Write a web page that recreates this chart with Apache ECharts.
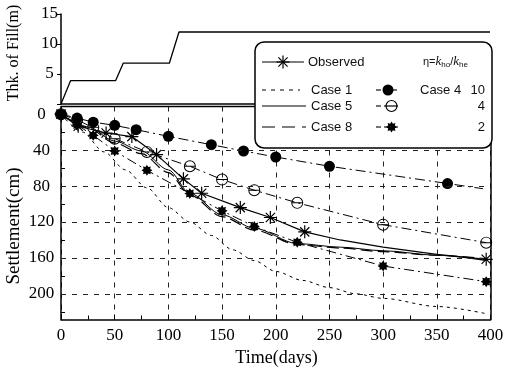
<!DOCTYPE html>
<html>
<head>
<meta charset="utf-8">
<title>Settlement vs time</title>
<script src="https://cdn.jsdelivr.net/npm/echarts@6.0.0/dist/echarts.min.js"></script>
<style>
  html, body { margin: 0; padding: 0; background: #fff; }
  #chart { width: 507px; height: 370px; }
</style>
</head>
<body>
<div id="chart"></div>
<script>
// thickness of fill (upper panel)
const fillDays = [0, 9, 51, 58, 101, 110, 400];
const fillThk  = [0, 3.9, 3.9, 6.8, 6.8, 12, 12];

// observed settlement
const obsDays     = [0, 16, 42, 66, 89, 114, 131, 167, 195, 227, 260, 300, 350, 396];
const obsSettle   = [0, 13.5, 21, 25, 45, 72, 88, 104, 115, 131, 140, 148, 156, 161.5];
const obsUnmarked = [260, 300, 350];

// computed cases (lines only)
const case1Days   = [0, 20, 40, 60, 80, 100, 120, 140, 160, 180, 200, 225, 250, 275, 300, 350, 396];
const case1Settle = [0, 20, 42, 62, 82, 104, 120, 135, 151, 163, 175, 185, 193, 200, 205, 214, 222];
const case5Days   = [0, 25, 50, 75, 100, 120, 150, 180, 220, 260, 300, 350, 396];
const case5Settle = [0, 14, 30, 41, 62, 88, 112, 127, 144, 148, 152, 157, 163];
const case8Days   = [0, 25, 50, 75, 100, 120, 150, 180, 220, 260, 300, 350, 396];
const case8Settle = [0, 15, 32, 44, 65, 90, 114, 129, 145, 149, 153, 157, 161];

// computed cases with markers (eta = 10, 4, 2)
const eta10Days   = [0, 15, 30, 50, 70, 100, 140, 170, 200, 250, 360, 393];
const eta10Settle = [0, 4.4, 8.9, 12.5, 17.3, 24.7, 34, 41, 47.7, 58, 77.2, 83];
const eta10Unmarked = [393];
const eta4Days    = [0, 15, 30, 50, 80, 120, 150, 180, 220, 300, 396];
const eta4Settle  = [0, 6.5, 15, 27.3, 42, 58, 72.8, 84.6, 98.7, 123, 143];
const eta2Days    = [0, 15, 30, 50, 80, 120, 150, 180, 220, 300, 396];
const eta2Settle  = [0, 12, 23.6, 41, 62.5, 88.3, 107.6, 125, 142.6, 169, 186.4];

// axis ticks
const fillTicks   = [5, 10, 15];
const settleTicks = [0, 40, 80, 120, 160, 200];
const settleMinor = [0, 20, 40, 60, 80, 100, 120, 140, 160, 180, 200, 220];
const settleGrid  = [40, 80, 120, 160, 200];
const settleMin = -8.5, settleMax = 228.5;

const black = '#000';
const serif = '"Liberation Serif", "DejaVu Serif", serif';
const sans = '"Liberation Sans", Arial, sans-serif';

function starPoints(n, rOut, rIn) {
  const pts = [];
  for (let i = 0; i < n * 2; i++) {
    const r = i % 2 ? rIn : rOut;
    const a = Math.PI * i / n - Math.PI / 2;
    pts.push([r * Math.cos(a), r * Math.sin(a)]);
  }
  return pts;
}
const AST = 'M-10,0L10,0M0,-10L0,10M-7.07,-7.07L7.07,7.07M-7.07,7.07L7.07,-7.07';
// ring with a bar through it (both clockwise so the bar fills the hole)
const OPEN = 'M0,-10A10,10,0,1,1,0,10A10,10,0,1,1,0,-10Z' +
  'M0,-8.4A8.4,8.4,0,1,0,0,8.4A8.4,8.4,0,1,0,0,-8.4Z' +
  'M-9,-0.8L9,-0.8L9,0.8L-9,0.8Z';
const STAR = 'M' + starPoints(8, 10, 6.5).map(p => p[0].toFixed(2) + ',' + p[1].toFixed(2)).join('L') + 'Z';

function pairs(days, vals, unmarked) {
  return days.map((d, i) => {
    if (unmarked && unmarked.indexOf(d) >= 0) return { value: [d, vals[i]], symbol: 'none' };
    return [d, vals[i]];
  });
}

function caseLine(name, days, vals, dash, width) {
  return {
    name, type: 'line', xAxisIndex: 1, yAxisIndex: 1,
    data: pairs(days, vals), symbol: 'none', smooth: 0.3, smoothMonotone: 'x',
    lineStyle: { color: black, width: width, type: dash }
  };
}

function markerLine(name, days, vals, unmarked, symbol, size, fill, border) {
  return {
    name, type: 'line', xAxisIndex: 1, yAxisIndex: 1,
    data: pairs(days, vals, unmarked),
    symbol, symbolSize: size,
    itemStyle: { color: fill, borderColor: black, borderWidth: border },
    lineStyle: { color: black, width: 1, type: [10, 4, 2, 4] }
  };
}

// legend and frame pieces drawn as graphic
function seg(x1, y1, x2, y2, dash, w, z) {
  return { type: 'line', z: z || 101, z2: 100, shape: { x1, y1, x2, y2 },
    style: { stroke: black, lineWidth: w || 1.1, lineDash: dash || null } };
}
function hline(x1, x2, y, dash, w) { return seg(x1, y, x2, y, dash, w); }
function txt(x, y, text, align) {
  return { type: 'text', z: 101, z2: 100, x, y,
    style: { text, font: '13px ' + sans, fill: '#111', align: align || 'left', verticalAlign: 'middle' } };
}
function asterisk(cx, cy, r) {
  const d = r * 0.707;
  return [seg(cx - r, cy, cx + r, cy, null, 1.2), seg(cx, cy - r, cx, cy + r, null, 1.2),
    seg(cx - d, cy - d, cx + d, cy + d, null, 1.2), seg(cx - d, cy + d, cx + d, cy - d, null, 1.2)];
}

// panel frame lines that stop at the legend box
const frame = [
  hline(61, 255, 104, null, 1.5),
  hline(61, 255, 106.5, null, 1.5)
];

const legendItems = [
  { type: 'rect', z: 100, z2: 90, shape: { x: 255, y: 42, width: 237, height: 106, r: 9 },
    style: { fill: '#fff', stroke: black, lineWidth: 1.5 } },
  hline(262, 304, 62, null, 1.2)
].concat(asterisk(283, 62, 6.5), [
  txt(308, 62, 'Observed'),
  { type: 'text', z: 101, z2: 100, x: 423, y: 62, style: {
    text: '{g|η=}{k|k}{s|ho}{g|/}{k|k}{s|he}', fill: '#111', verticalAlign: 'middle',
    rich: {
      g: { fontSize: 11, fontFamily: sans },
      k: { fontSize: 13, fontFamily: serif, fontStyle: 'italic' },
      s: { fontSize: 8, fontFamily: sans, padding: [5, 0, 0, 0] }
    } } },
  hline(262, 300, 90, [4, 5]),
  txt(311, 90, 'Case 1'),
  hline(376, 381, 90), hline(384, 397, 90),
  { type: 'circle', z: 102, z2: 100, shape: { cx: 388, cy: 90, r: 5.5 }, style: { fill: black } },
  txt(420, 90, 'Case 4'),
  txt(485, 90, '10', 'right'),
  hline(262, 306, 106, null, 1),
  txt(311, 106, 'Case 5'),
  hline(376, 381, 106), hline(384, 398, 106),
  { type: 'circle', z: 102, z2: 100, shape: { cx: 391.5, cy: 106, r: 5.5 }, style: { fill: '#fff', stroke: black, lineWidth: 1.2 } },
  seg(386, 106, 397, 106, null, 1.2, 103),
  txt(485, 106, '4', 'right'),
  hline(262, 306, 127, [13, 7], 1.2),
  txt(311, 127, 'Case 8'),
  hline(376, 381, 127), hline(384, 398, 127),
  { type: 'polygon', z: 102, z2: 100, shape: { points: starPoints(8, 5.5, 3.6).map(p => [p[0] + 391.5, p[1] + 127]) }, style: { fill: black } },
  txt(485, 127, '2', 'right')
]);

const titles = [
  { type: 'text', x: 276.5, y: 358, style: { text: 'Time(days)', font: '18px ' + serif, fill: black, align: 'center', verticalAlign: 'middle' } },
  { type: 'text', x: 14, y: 226, rotation: Math.PI / 2, style: { text: 'Settlement(cm)', font: '19px ' + serif, fill: black, align: 'center', verticalAlign: 'middle' } },
  { type: 'text', x: 14, y: 53, rotation: Math.PI / 2, style: { text: 'Thk. of Fill(m)', font: '16px ' + serif, fill: black, align: 'center', verticalAlign: 'middle' } }
];

const axisLine = { show: true, onZero: false, lineStyle: { color: black, width: 1.5 } };
const labelStyle = { color: black, fontSize: 17, fontFamily: serif };
const gridDash = { color: '#222', width: 1, type: [5, 6] };

const chart = echarts.init(document.getElementById('chart'));
chart.setOption({
  animation: false,
  backgroundColor: '#fff',
  grid: [
    { left: 61, top: 14, width: 429, height: 90 },
    { left: 61, top: 106.5, width: 429.5, height: 213 }
  ],
  xAxis: [
    { gridIndex: 0, type: 'value', min: 0, max: 400, axisLine: { show: false },
      axisTick: { show: false }, axisLabel: { show: false }, splitLine: { show: false } },
    { gridIndex: 1, type: 'value', min: 0, max: 400, interval: 50, position: 'bottom', axisLine,
      axisTick: { inside: true, length: 5, lineStyle: { color: black } },
      minorTick: { show: true, splitNumber: 2, length: 4, lineStyle: { color: black } },
      axisLabel: Object.assign({ margin: 8 }, labelStyle),
      splitLine: { show: true, lineStyle: gridDash } }
  ],
  yAxis: [
    { gridIndex: 0, type: 'value', min: 0, max: 15, interval: 5, axisLine,
      axisTick: { show: true, length: 4, lineStyle: { color: black } },
      axisLabel: Object.assign({ margin: 11.5, align: 'center', customValues: fillTicks }, labelStyle),
      splitLine: { show: false } },
    { gridIndex: 1, type: 'value', inverse: true, min: settleMin, max: settleMax, axisLine,
      axisTick: { inside: true, length: 4, customValues: settleMinor, lineStyle: { color: black } },
      axisLabel: Object.assign({ margin: 19.5, align: 'center', customValues: settleTicks }, labelStyle),
      splitLine: { show: false } },
    { gridIndex: 1, type: 'value', position: 'right', inverse: true, min: settleMin, max: settleMax, axisLine,
      axisTick: { show: false }, axisLabel: { show: false }, splitLine: { show: false } }
  ],
  graphic: titles.concat(frame, legendItems),
  series: [
    { name: 'Fill', type: 'line', xAxisIndex: 0, yAxisIndex: 0, data: pairs(fillDays, fillThk),
      symbol: 'none', lineStyle: { color: black, width: 1.3 } },
    Object.assign(caseLine('Case 1', case1Days, case1Settle, [3, 4], 1), {
      markLine: { silent: true, symbol: ['none', 'none'], label: { show: false },
        lineStyle: gridDash, data: settleGrid.map(v => ({ yAxis: v })) } }),
    caseLine('Case 5', case5Days, case5Settle, 'solid', 1),
    caseLine('Case 8', case8Days, case8Settle, [12, 5], 1.2),
    markerLine('Case 4', eta10Days, eta10Settle, eta10Unmarked, 'circle', 11, black, 0),
    markerLine('eta 4', eta4Days, eta4Settle, null, 'path://' + OPEN, 12, black, 0),
    markerLine('eta 2', eta2Days, eta2Settle, null, 'path://' + STAR, 11, black, 0),
    { name: 'Observed', type: 'line', xAxisIndex: 1, yAxisIndex: 1,
      data: pairs(obsDays, obsSettle, obsUnmarked),
      symbol: 'path://' + AST, symbolSize: 13,
      itemStyle: { color: 'rgba(0,0,0,0)', borderColor: black, borderWidth: 1.2 },
      lineStyle: { color: black, width: 1.2 } }
  ]
});
</script>
</body>
</html>
